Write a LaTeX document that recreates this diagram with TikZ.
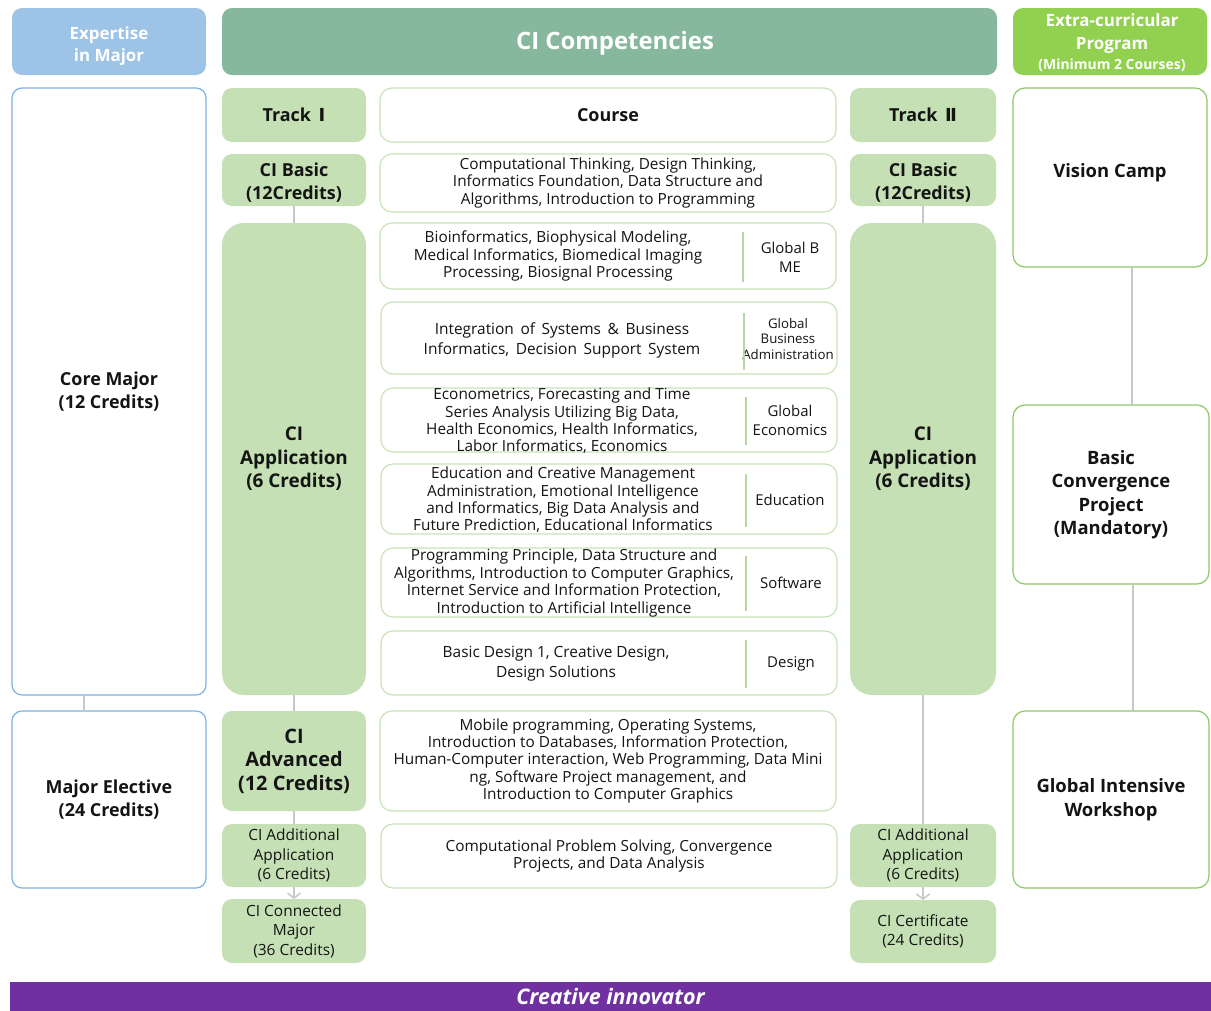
\documentclass[tikz,border=0pt]{standalone}
\usepackage{fontspec}
\setmainfont{Open Sans}
\newfontfamily\djv{DejaVu Sans}
\usetikzlibrary{arrows.meta}
\definecolor{hdblue}{HTML}{9DC3E6}
\definecolor{hdgreen}{HTML}{87B89E}
\definecolor{hdlime}{HTML}{92D050}
\definecolor{trk}{HTML}{C5E0B4}
\definecolor{crsline}{HTML}{C9E2B9}
\definecolor{divline}{HTML}{B5D7A0}
\definecolor{bluel}{HTML}{7EB2E2}
\definecolor{extl}{HTML}{8CC864}
\definecolor{connc}{HTML}{C8C8C8}
\definecolor{purp}{HTML}{7030A0}
\definecolor{txt}{HTML}{141414}
\newcommand\pbox[7]{\node[#1,minimum width={(#4-#2)*1bp},minimum height={(#5-#3)*1bp}] (#6) at ({(#2+#4)/2},{(#3+#5)/2}) {#7};}
\tikzset{
  base/.style={inner sep=0pt,outer sep=0pt,align=center,text=txt},
  hdr/.style={base,fill=#1,rounded corners=10bp},
  hdrtext/.style={base,text=white,font=\bfseries\fontsize{17}{22.5}\selectfont},
  trackbox/.style={base,fill=trk,rounded corners=10bp,font=\bfseries\fontsize{18}{23}\selectfont},
  trackfont/.style={base,font=\bfseries\fontsize{18}{23}\selectfont},
  smalltrack/.style={base,fill=trk,rounded corners=10bp,font=\fontsize{15.5}{19.5}\selectfont},
  course/.style={base,draw=crsline,line width=1.2bp,fill=white,rounded corners=12bp},
  ctext/.style={base,font=\fontsize{15.4}{17.5}\selectfont},
  lbl/.style={base,font=\fontsize{15}{19}\selectfont},
  leftbox/.style={base,draw=bluel,line width=1.2bp,fill=white,rounded corners=10bp,font=\bfseries\fontsize{18}{23}\selectfont},
  extbox/.style={base,draw=extl,line width=1.2bp,fill=white,rounded corners=12bp,font=\bfseries\fontsize{18.5}{23.5}\selectfont},
  divl/.style={draw=divline,line width=2bp},
  connline/.style={draw=connc,line width=1.5bp},
  connarrow/.style={connline,-{Straight Barb[length=5bp,width=13bp]}},
}
\begin{document}
\begin{tikzpicture}[x=1bp,y=-1bp]
\useasboundingbox (0,0) rectangle (1211,1011);
% headers
\pbox{hdr=hdblue}{12}{8}{206}{75}{hexp}{}
\node[hdrtext] (hexpt) at (109,46) {Expertise\\in Major};
\pbox{hdr=hdgreen}{222}{8}{997}{75}{hci}{}
\node[hdrtext,font=\bfseries\fontsize{24}{28}\selectfont] (hcit) at (615,43) {CI Competencies};
\pbox{hdr=hdlime}{1013}{8}{1207}{75}{hext}{}
\node[hdrtext] (hextt) at (1112,43) {Extra-curricular\\Program\\[-1.5bp]{\fontsize{14}{17}\selectfont (Minimum 2 Courses)}};
% left column
\pbox{leftbox}{12}{88}{206}{695}{core}{Core Major\\(12 Credits)}
\pbox{leftbox}{12}{711}{206}{888}{elec}{Major Elective\\(24 Credits)}
% track row
\pbox{trackbox}{222}{88}{366}{142}{tr1}{Track\, {\djv\bfseries Ⅰ}}
\pbox{course,font=\bfseries\fontsize{18}{23}\selectfont}{380}{88}{836}{142}{chead}{Course}
\pbox{trackbox}{850}{88}{996}{142}{tr2}{Track\, {\djv\bfseries Ⅱ}}
% extra column
\pbox{extbox}{1013}{88}{1207}{267}{vcamp}{}
\node[base,font=\bfseries\fontsize{18.5}{23.5}\selectfont] (vcampt) at (1110,173) {Vision Camp};
\pbox{extbox}{1013}{405}{1209}{584}{bconv}{Basic\\Convergence\\Project\\(Mandatory)}
\pbox{extbox}{1013}{711}{1209}{888}{giw}{Global Intensive\\Workshop}
% CI basic
\pbox{trackbox}{222}{154}{366}{206}{bas1}{}
\node[trackfont] (bas1t) at (294,182.5) {CI Basic\\(12Credits)};
\pbox{course,ctext}{380}{154}{836}{212}{cbas}{Computational Thinking, Design Thinking,\\Informatics Foundation, Data Structure and\\Algorithms, Introduction to Programming}
\pbox{trackbox}{850}{154}{996}{206}{bas2}{}
\node[trackfont] (bas2t) at (923,182.5) {CI Basic\\(12Credits)};
% CI application
\pbox{trackbox,rounded corners=22bp,font=\bfseries\fontsize{19}{23.5}\selectfont}{222}{223}{366}{695}{app1}{CI\\Application\\(6 Credits)}
\pbox{trackbox,rounded corners=22bp,font=\bfseries\fontsize{19}{23.5}\selectfont}{850}{223}{996}{695}{app2}{CI\\Application\\(6 Credits)}
% course boxes
\pbox{course}{380}{223}{836}{289}{cbio}{}
\node[ctext] (tbio) at (558,256) {Bioinformatics, Biophysical Modeling,\\Medical Informatics, Biomedical Imaging\\Processing, Biosignal Processing};
\node[lbl] (lbio) at (790,257) {Global B\\ME};
\draw[divl] (743,232) -- (743,282);

\pbox{course}{381}{302}{837}{374}{cbiz}{}
\node[ctext,font=\fontsize{15.5}{20}\selectfont] (tbiz) at (562,340) {Integration\, of\, Systems\, \&\, Business\\Informatics,\, Decision\, Support\, System};
\node[base,font=\fontsize{13.3}{16}\selectfont] (lbiz) at (788,339) {Global\\Business\\Administration};
\draw[divl] (744,313) -- (744,370);

\pbox{course}{381}{388}{837}{452}{ceco}{}
\node[ctext] (teco) at (562,421) {Econometrics, Forecasting and Time\\Series Analysis Utilizing Big Data,\\Health Economics, Health Informatics,\\Labor Informatics, Economics};
\node[lbl] (leco) at (790,420) {Global\\Economics};
\draw[divl] (746,397) -- (746,445);

\pbox{course}{381}{464}{837}{534}{cedu}{}
\node[ctext] (tedu) at (563,500) {Education and Creative Management\\Administration, Emotional Intelligence\\and Informatics, Big Data Analysis and\\Future Prediction, Educational Informatics};
\node[lbl] (ledu) at (790,500) {Education};
\draw[divl] (746,474) -- (746,527);

\pbox{course}{381}{548}{837}{617}{csw}{}
\node[ctext] (tsw) at (564,583) {Programming Principle, Data Structure and\\Algorithms, Introduction to Computer Graphics,\\Internet Service and Information Protection,\\Introduction to Artificial Intelligence};
\node[lbl] (lsw) at (791,583) {Software};
\draw[divl] (746,556) -- (746,611);

\pbox{course}{381}{631}{837}{695}{cdes}{}
\node[ctext,font=\fontsize{15.5}{20}\selectfont] (tdes) at (556,664) {Basic Design 1, Creative Design,\\Design Solutions};
\node[lbl] (ldes) at (791,664) {Design};
\draw[divl] (746,640) -- (746,688);

% advanced
\pbox{trackbox,font=\bfseries\fontsize{20}{23.5}\selectfont}{222}{711}{366}{811}{adv1}{CI\\Advanced\\(12 Credits)}
\pbox{course,ctext}{380}{711}{836}{811}{cadv}{Mobile programming, Operating Systems,\\Introduction to Databases, Information Protection,\\Human-Computer interaction, Web Programming, Data Mini\\ng, Software Project management, and\\Introduction to Computer Graphics}
% additional
\pbox{smalltrack}{222}{824}{366}{887}{add1}{CI Additional\\Application\\(6 Credits)}
\pbox{course,ctext}{381}{824}{837}{888}{cadd}{Computational Problem Solving, Convergence\\Projects, and Data Analysis}
\pbox{smalltrack}{850}{824}{996}{887}{add2}{CI Additional\\Application\\(6 Credits)}
\pbox{smalltrack}{222}{899}{366}{963}{conm}{CI Connected\\Major\\(36 Credits)}
\pbox{smalltrack}{850}{900}{996}{963}{cert}{CI Certificate\\(24 Credits)}
% bottom bar
\pbox{base,fill=purp,text=white,font=\bfseries\itshape\fontsize{21.5}{24}\selectfont}{10}{982}{1211}{1011}{bar}{Creative innovator}
% connectors
\draw[connline] ([xshift=-25bp]core.south) -- ([xshift=-25bp]elec.north);
\draw[connline] (bas1.south) -- (app1.north);
\draw[connline] (app1.south) -- (adv1.north);
\draw[connline] (adv1.south) -- (add1.north);
\draw[connarrow] (add1.south) -- (conm.north);
\draw[connline] (bas2.south) -- (app2.north);
\draw[connline] (app2.south) -- (add2.north);
\draw[connarrow] (add2.south) -- (cert.north);
\draw[connline] ([xshift=22bp]vcamp.south) -- ([xshift=22bp]vcamp.south |- bconv.north);
\draw[connline] ([xshift=22bp]bconv.south) -- ([xshift=22bp]bconv.south |- giw.north);
\end{tikzpicture}
\end{document}
